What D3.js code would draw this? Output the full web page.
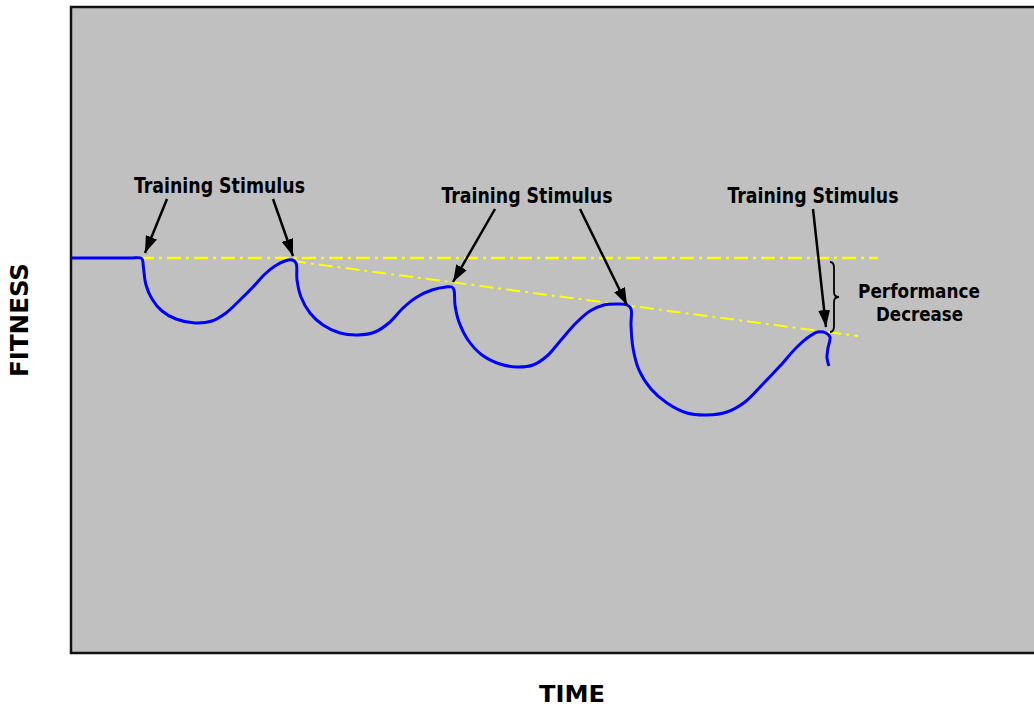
<!DOCTYPE html>
<html>
<head>
<meta charset="utf-8">
<script src="https://d3js.org/d3.v7.min.js"></script>
<title>Fitness vs Time</title>
<style>
body { margin: 0; background: #fff; }
text { font-family: "DejaVu Sans Condensed", "DejaVu Sans", sans-serif; font-weight: bold; fill: #000; }
</style>
</head>
<body>
<svg id="canvas" width="1034" height="708"></svg>
<script>
// time / fitness units (arbitrary)
var fitnessCurve = [
  [0,395],[20,395],[40,395],[60,395],[70,395],[71.5,393],[72.5,385],[75,368],[81,354],[91,342],[105,334],[124,330],[141,332],
  [155,340],[169,353],[182,366],[194,379],[204,387],[214,392],[221,393],[225,390],
  [226,373],[230,356],[239,340],[252,328],[269,320],[287,318],[304,321],[319,331],
  [332,345],[346,356],[361,363],[375,366],[381,366],[383,363],
  [384,348],[388,331],[397,313],[411,298],[429,289],[446,286],[462,288],[476,297],
  [490,313],[505,330],[519,342],[533,348],[546,349],[556,348],[560,344],
  [560,328],[562,305],[568,283],[580,264],[596,250],[616,240],[636,238],[656,241],
  [674,251],[691,268],[709,287],[726,306],[739,317],[747,321],[755,320],[759,316],
  [757,305],[756,295],[758,287]
];
var baselineLevel = [[69,395],[807,395]];
var trendLine = [[221,392],[787,317]];
var arrows = [
  [[96,454],[74,400]],
  [[202,454],[222,397]],
  [[424,444],[382,371]],
  [[509,444],[556,348]],
  [[742,444],[755,326]]
];
var stimulusLabels = [[148.5,460],[456,450],[742,450]];
var decreaseSpan = [763, 391, 321];   // time, top fitness, bottom fitness

var svg = d3.select("#canvas");
var boxLeft = 71, boxTop = 7, boxRight = 1040, boxBottom = 653;

var x = d3.scaleLinear().domain([0, 963]).range([boxLeft, boxLeft + 963]);
var y = d3.scaleLinear().domain([0, 646]).range([boxBottom, boxTop]);

svg.append("defs").append("marker")
   .attr("id", "head")
   .attr("markerUnits", "userSpaceOnUse")
   .attr("viewBox", "0 0 17 12")
   .attr("refX", 17).attr("refY", 6)
   .attr("markerWidth", 17).attr("markerHeight", 12)
   .attr("orient", "auto")
   .append("path").attr("d", "M0,0 L17,6 L0,12 Z").style("fill", "#000");

// plot box
svg.append("rect")
   .attr("x", boxLeft).attr("y", boxTop)
   .attr("width", boxRight - boxLeft).attr("height", boxBottom - boxTop)
   .style("fill", "#c0c0c0").style("stroke", "#111").style("stroke-width", 2.5);

var line = d3.line().x(function(d) { return x(d[0]); }).y(function(d) { return y(d[1]); });

svg.append("path").datum(baselineLevel).attr("d", line)
   .style("fill", "none").style("stroke", "#ffff00").style("stroke-width", 2.5)
   .style("stroke-dasharray", "14,5,3,5");
svg.append("path").datum(trendLine).attr("d", line)
   .style("fill", "none").style("stroke", "#ffff00").style("stroke-width", 2)
   .style("stroke-dasharray", "14,5,3,5");

svg.append("path").datum(fitnessCurve)
   .attr("d", line.curve(d3.curveCatmullRom.alpha(0.5)))
   .style("fill", "none").style("stroke", "#0000ff").style("stroke-width", 3)
   .style("stroke-linejoin", "round");

line.curve(d3.curveLinear);
svg.append("g").selectAll("path").data(arrows).enter().append("path")
   .attr("d", line)
   .style("stroke", "#000").style("stroke-width", 2.5).style("fill", "none")
   .attr("marker-end", "url(#head)");

svg.append("g").selectAll("text").data(stimulusLabels).enter().append("text")
   .attr("x", function(d) { return x(d[0]); })
   .attr("y", function(d) { return y(d[1]); })
   .attr("text-anchor", "middle")
   .attr("textLength", 171).attr("lengthAdjust", "spacingAndGlyphs")
   .style("font-size", "20.5px")
   .text("Training Stimulus");

// brace
var bx = x(decreaseSpan[0]), by0 = y(decreaseSpan[1]), by1 = y(decreaseSpan[2]);
var bm = (by0 + by1) / 2;
svg.append("path")
   .attr("d", "M" + (bx - 4) + "," + by0 + " Q" + bx + "," + by0 + " " + bx + "," + (by0 + 6) +
        " L" + bx + "," + (bm - 5) + " Q" + bx + "," + bm + " " + (bx + 5) + "," + bm +
        " Q" + bx + "," + bm + " " + bx + "," + (bm + 5) +
        " L" + bx + "," + (by1 - 6) + " Q" + bx + "," + by1 + " " + (bx - 4) + "," + by1)
   .style("fill", "none").style("stroke", "#000").style("stroke-width", 1.8);

svg.append("text").attr("x", 919).attr("y", 298).attr("text-anchor", "middle")
   .attr("textLength", 122).attr("lengthAdjust", "spacingAndGlyphs")
   .style("font-size", "19.5px").text("Performance");
svg.append("text").attr("x", 919.5).attr("y", 321).attr("text-anchor", "middle")
   .attr("textLength", 87).attr("lengthAdjust", "spacingAndGlyphs")
   .style("font-size", "19.5px").text("Decrease");

// axis titles
svg.append("text").attr("x", 572).attr("y", 702).attr("text-anchor", "middle")
   .attr("textLength", 66).attr("lengthAdjust", "spacingAndGlyphs")
   .style("font-size", "23px").text("TIME");
svg.append("text").attr("transform", "translate(28,320) rotate(-90)")
   .attr("text-anchor", "middle")
   .attr("textLength", 114).attr("lengthAdjust", "spacingAndGlyphs")
   .style("font-size", "25px").text("FITNESS");
</script>
</body>
</html>
